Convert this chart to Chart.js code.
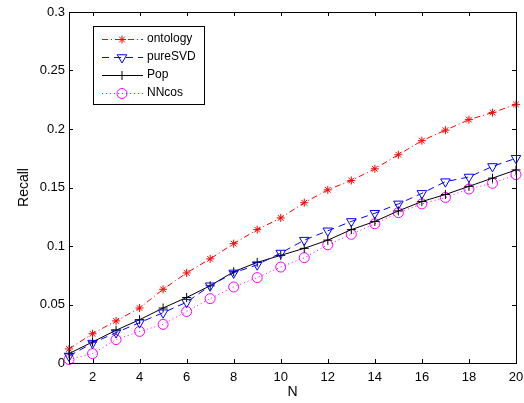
<!DOCTYPE html>
<html>
<head>
<meta charset="utf-8">
<script src="https://cdn.jsdelivr.net/npm/chart.js@4"></script>
<style>
  body { margin: 0; background: #fff; }
</style>
</head>
<body>
<canvas id="graphe" width="524" height="403"></canvas>
<script>
// donnees
let N = [1, 2, 3, 4, 5, 6, 7, 8, 9, 10, 11, 12, 13, 14, 15, 16, 17, 18, 19, 20];
let ontology = [0.012, 0.025, 0.036, 0.047, 0.063, 0.077, 0.089, 0.102, 0.114, 0.124,
                0.137, 0.148, 0.156, 0.166, 0.178, 0.190, 0.199, 0.208, 0.214, 0.221];
let pureSVD = [0.006, 0.017, 0.026, 0.0345, 0.043, 0.052, 0.066, 0.077, 0.084, 0.094,
               0.105, 0.113, 0.121, 0.128, 0.136, 0.145, 0.155, 0.159, 0.168, 0.175];
let Pop = [0.008, 0.018, 0.028, 0.037, 0.047, 0.056, 0.066, 0.078, 0.086, 0.092,
           0.098, 0.105, 0.114, 0.121, 0.130, 0.138, 0.144, 0.151, 0.158, 0.165];
let NNcos = [0.003, 0.008, 0.020, 0.027, 0.033, 0.044, 0.055, 0.065, 0.073, 0.082,
             0.090, 0.101, 0.110, 0.119, 0.1285, 0.136, 0.1415, 0.1487, 0.1536, 0.161];
let xTicks = [2, 4, 6, 8, 10, 12, 14, 16, 18, 20];
let yTicks = [0, 0.05, 0.1, 0.15, 0.2, 0.25, 0.3];

let police = "'Liberation Sans', Arial, sans-serif";

function serie(label, values, color, dash, style, radius, rotation) {
  return {
    label: label,
    data: values.map((v, i) => ({ x: N[i], y: v })),
    borderColor: color,
    borderWidth: 1,
    borderDash: dash,
    pointStyle: style,
    pointRadius: radius,
    pointRotation: rotation,
    pointBorderColor: color,
    pointBackgroundColor: "rgba(0,0,0,0)",
    pointBorderWidth: 1,
    tension: 0,
    clip: false,
  };
}

// cadre, graduations vers l'interieur et legende facon matlab
let axesMatlab = {
  id: "axesMatlab",
  afterDatasetsDraw(chart) {
    let ctx = chart.ctx;
    let a = chart.chartArea;
    let sx = chart.scales.x;
    let sy = chart.scales.y;
    let tl = 4;
    ctx.save();
    ctx.strokeStyle = "#000";
    ctx.lineWidth = 1;
    ctx.setLineDash([]);
    ctx.beginPath();
    xTicks.forEach((t) => {
      let px = Math.round(sx.getPixelForValue(t)) + 0.5;
      ctx.moveTo(px, a.bottom); ctx.lineTo(px, a.bottom - tl);
      ctx.moveTo(px, a.top); ctx.lineTo(px, a.top + tl);
    });
    yTicks.forEach((t) => {
      let py = Math.round(sy.getPixelForValue(t)) + 0.5;
      ctx.moveTo(a.left, py); ctx.lineTo(a.left + tl, py);
      ctx.moveTo(a.right, py); ctx.lineTo(a.right - tl, py);
    });
    ctx.stroke();
    ctx.strokeRect(Math.round(a.left) + 0.5, Math.round(a.top) + 0.5,
                   Math.round(a.right - a.left), Math.round(a.bottom - a.top));

    // legende
    let lx = 93, ly = 26, lw = 111, lh = 78;
    ctx.fillStyle = "#fff";
    ctx.fillRect(lx, ly, lw, lh);
    ctx.strokeRect(lx + 0.5, ly + 0.5, lw, lh);
    ctx.font = "12px " + police;
    ctx.textBaseline = "middle";
    chart.data.datasets.forEach((ds, i) => {
      let y = ly + 13 + i * 18;
      ctx.strokeStyle = ds.borderColor;
      ctx.setLineDash(ds.borderDash);
      ctx.beginPath();
      ctx.moveTo(102, y + 0.5);
      ctx.lineTo(143, y + 0.5);
      ctx.stroke();
      ctx.setLineDash([]);
      ctx.fillStyle = "rgba(0,0,0,0)";
      ctx.lineWidth = 1;
      Chart.helpers.drawPoint(ctx, {
        pointStyle: ds.pointStyle,
        radius: ds.pointRadius,
        rotation: ds.pointRotation,
        borderWidth: 1,
      }, 122, y + 0.5);
      ctx.fillStyle = "#000";
      ctx.fillText(ds.label, 147, y);
    });
    ctx.restore();
  },
};

new Chart(document.getElementById("graphe"), {
  type: "line",
  data: {
    datasets: [
      serie("ontology", ontology, "#ff0000", [6, 3, 1, 3], "star", 4, 0),
      serie("pureSVD", pureSVD, "#0000ff", [7, 5], "triangle", 5.5, 180),
      serie("Pop", Pop, "#000000", [], "cross", 4.5, 0),
      serie("NNcos", NNcos, "#ff00ff", [1, 3], "circle", 5, 0),
    ],
  },
  options: {
    responsive: false,
    animation: false,
    layout: { padding: { left: 0, right: 8, top: 12, bottom: 0 } },
    plugins: {
      legend: { display: false },
      tooltip: { enabled: false },
    },
    scales: {
      x: {
        type: "linear",
        min: 1,
        max: 20,
        afterBuildTicks: (s) => { s.ticks = xTicks.map((v) => ({ value: v })); },
        afterFit: (s) => { s.height = 40; s.paddingLeft = 0; s.paddingRight = 0; },
        grid: { display: false, drawTicks: false },
        border: { display: false },
        ticks: { color: "#000", padding: 7, maxRotation: 0, font: { family: police, size: 13 } },
        title: { display: true, text: "N", color: "#000", padding: { top: 0, bottom: 2 }, font: { family: police, size: 14 } },
      },
      y: {
        min: 0,
        max: 0.3,
        afterBuildTicks: (s) => { s.ticks = yTicks.map((v) => ({ value: v })); },
        afterFit: (s) => { s.width = 69; s.paddingTop = 0; s.paddingBottom = 0; },
        grid: { display: false, drawTicks: false },
        border: { display: false },
        ticks: { color: "#000", padding: 4, font: { family: police, size: 13 }, callback: (v) => String(+v.toFixed(2)) },
        title: { display: true, text: "Recall", color: "#000", padding: { top: 16, bottom: 0 }, font: { family: police, size: 14 } },
      },
    },
  },
  plugins: [axesMatlab],
});
</script>
</body>
</html>
